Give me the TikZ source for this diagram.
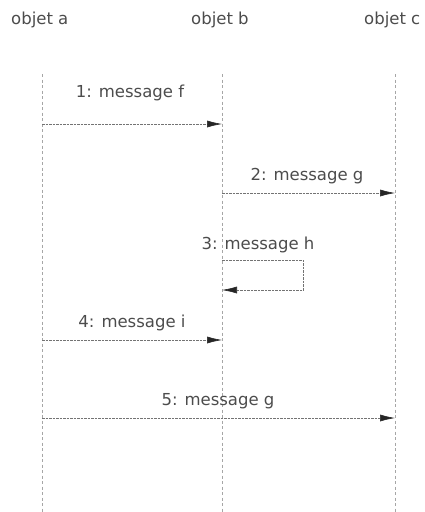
\documentclass[tikz,border=0pt]{standalone}
\usepackage{fontspec}
\setmainfont{DejaVu Sans}
\usetikzlibrary{arrows.meta}
\begin{document}
\begin{tikzpicture}[x=1pt,y=-1pt,
obj/.style={font=\fontsize{16.5}{20}\selectfont,text=black!70,inner sep=0pt,anchor=base west},
lbl/.style={font=\fontsize{16.5}{20}\selectfont,text=black!70,inner sep=0pt,anchor=base},
life/.style={draw=black!35,line width=0.5pt,dash pattern=on 3pt off 2.5pt},
msg/.style={draw=black!55,line width=0.6pt,dash pattern=on 2.5pt off 1pt,-{Latex[length=15pt,width=7pt,color=black!85]}}]
%\draw[help lines] (0,0) grid[step=20] (424,512);
\useasboundingbox (0,0) rectangle (424,512);
\node[obj] (a) at (11,24) {objet a};
\node[obj] (b) at (191,24) {objet b};
\node[obj] (c) at (364,24) {objet c};
\foreach \n/\x in {a/42,b/222,c/395} {
  \coordinate (\n top) at (\x,74);
  \coordinate (\n bot) at (\x,512);
  \draw[life] (\n top) -- (\n bot);
}
% messages
\coordinate (m1a) at (42,124); \coordinate (m1b) at (222,124);
\coordinate (m2b) at (222,193); \coordinate (m2c) at (395,193);
\coordinate (m3b) at (222,260); \coordinate (m3r) at (303,260);
\coordinate (m3s) at (303,290); \coordinate (m3e) at (222,290);
\coordinate (m4a) at (42,340); \coordinate (m4b) at (222,340);
\coordinate (m5a) at (42,418); \coordinate (m5c) at (395,418);
\draw[msg] (m1a) -- (m1b);
\draw[msg] (m2b) -- (m2c);
\draw[msg] (m3b) -- (m3r) -- (m3s) -- (m3e);
\draw[msg] (m4a) -- (m4b);
\draw[msg] (m5a) -- (m5c);
\node[lbl] (l1) at (130,97) {1: message f};
\node[lbl] (l2) at (307,180) {2: message g};
\node[lbl] (l3) at (258,249) {3: message h};
\node[lbl] (l4) at (132,327) {4: message i};
\node[lbl] (l5) at (218,405) {5: message g};
\end{tikzpicture}
\end{document}
